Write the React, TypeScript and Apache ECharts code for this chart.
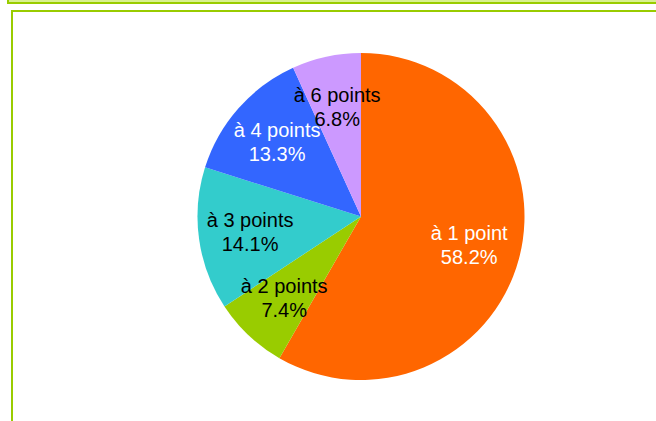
import React, { useEffect, useRef } from "react";
import * as echarts from "echarts";

const categories = ["à 1 point", "à 2 points", "à 3 points", "à 4 points", "à 6 points"];
const values = [58.2, 7.4, 14.1, 13.3, 6.8];
const colors = ["#FF6600", "#99CC00", "#33CCCC", "#3366FF", "#CC99FF"];
const labelColors = ["#FFFFFF", "#000000", "#000000", "#FFFFFF", "#000000"];

export default function App() {
  const ref = useRef<HTMLDivElement>(null);
  useEffect(() => {
    document.body.style.margin = "0";
    const chart = echarts.init(ref.current!, null, { renderer: "svg" });
    const total = values.reduce((a, b) => a + b, 0);
    const R = 163.5;
    const labelR = 112;
    let acc = 0;
    const labelData = values.map((v, i) => {
      const mid = acc + v / 2;
      acc += v;
      return {
        name: categories[i],
        value: [labelR, mid],
        label: { color: labelColors[i] },
      };
    });
    chart.setOption({
      animation: false,
      backgroundColor: "#FFFFFF",
      graphic: [
        {
          type: "rect",
          shape: { x: 8, y: -30, width: 720, height: 33 },
          style: { fill: "#D8F090", stroke: "#99CC00", lineWidth: 2 },
          silent: true,
        },
        {
          type: "rect",
          shape: { x: 12, y: 11, width: 720, height: 500 },
          style: { fill: "none", stroke: "#99CC00", lineWidth: 2 },
          silent: true,
        },
      ],
      polar: { center: [361, 216.5], radius: R },
      angleAxis: {
        type: "value",
        min: 0,
        max: total,
        startAngle: 90,
        clockwise: true,
        show: false,
      },
      radiusAxis: { type: "value", min: 0, max: R, show: false },
      series: [
        {
          type: "pie",
          center: [361, 216.5],
          radius: [0, R],
          startAngle: 90,
          clockwise: true,
          silent: true,
          label: { show: false },
          labelLine: { show: false },
          itemStyle: { borderWidth: 0 },
          data: categories.map((c, i) => ({
            name: c,
            value: values[i],
            itemStyle: { color: colors[i] },
          })),
          z: 2,
        },
        {
          type: "scatter",
          coordinateSystem: "polar",
          silent: true,
          symbol: "circle",
          symbolSize: 1,
          itemStyle: { color: "rgba(0,0,0,0)", opacity: 1 },
          label: {
            show: true,
            position: "inside",
            formatter: (p: any) => `${p.name}\n${values[p.dataIndex].toFixed(1)}%`,
            fontFamily: "'Liberation Sans', Arial, sans-serif",
            fontSize: 20,
            lineHeight: 24,
            align: "center",
            verticalAlign: "middle",
            opacity: 1,
            textBorderWidth: 0,
            textBorderColor: "transparent",
          },
          data: labelData,
          z: 3,
        },
      ],
    });
    return () => chart.dispose();
  }, []);
  return <div ref={ref} style={{ width: 656, height: 421 }} />;
}
